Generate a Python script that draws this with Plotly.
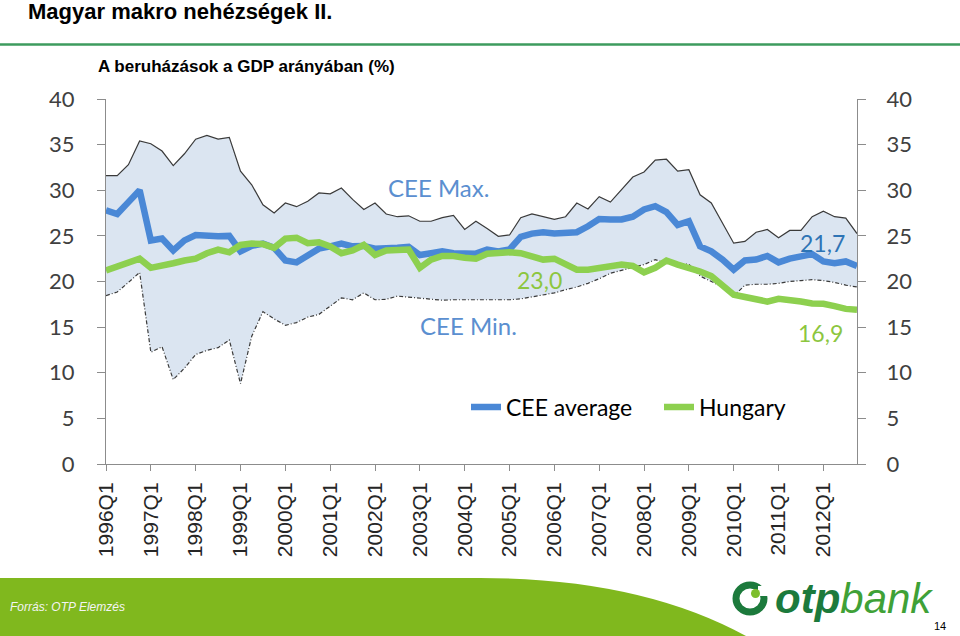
import plotly.graph_objects as go

# ---------------- data ----------------
years = list(range(1996, 2013))
quarters = [f"{y}Q{q}" for y in years for q in range(1, 5)]
tick_labels = [f"{y}Q1" for y in years]

cee_max = [31.6, 31.6, 32.8, 35.4, 35.1, 34.3, 32.7, 34.0, 35.6, 36.0,
           35.6, 35.8, 32.1, 30.6, 28.4, 27.5, 28.6, 28.2, 28.8, 29.7,
           29.6, 30.25, 29.0, 27.9, 28.6, 27.4, 27.1, 27.2, 26.6, 26.6,
           27.0, 27.25, 25.7, 26.6, 25.8, 24.95, 25.1, 27.0, 27.4, 27.1,
           26.8, 27.1, 28.6, 27.95, 29.3, 28.7, 30.1, 31.45, 32.0, 33.3,
           33.4, 32.1, 32.25, 29.5, 28.6, 26.4, 24.2, 24.4, 25.4, 25.7,
           24.8, 25.6, 25.6, 27.1, 27.7, 27.1, 26.95, 25.25]

cee_min = [18.45, 18.85, 19.9, 21.0, 12.25, 12.85, 9.25, 10.5, 12.0, 12.45,
           12.75, 13.6, 8.8, 14.0, 16.7, 15.9, 15.2, 15.5, 16.1, 16.4,
           17.3, 18.2, 18.0, 18.75, 18.0, 18.05, 18.4, 18.3, 18.2, 18.05,
           17.95, 18.0, 18.0, 17.95, 17.95, 18.0, 18.0, 18.1, 18.3, 18.55,
           18.75, 19.1, 19.4, 19.8, 20.3, 20.9, 21.2, 21.5, 21.85, 22.4,
           22.0, 21.9, 21.9, 20.6, 20.0, 19.4, 18.4, 19.6, 19.7, 19.7,
           19.8, 20.0, 20.1, 20.2, 20.1, 19.9, 19.6, 19.4]

cee_avg = [27.8, 27.4, 28.7, 30.0, 24.5, 24.7, 23.4, 24.5, 25.1, 25.0,
           24.95, 25.0, 23.3, 23.9, 24.15, 23.7, 22.3, 22.1, 22.8, 23.6,
           23.85, 24.15, 23.85, 23.9, 23.6, 23.6, 23.7, 23.8, 22.9, 23.1,
           23.3, 23.1, 23.0, 23.05, 23.5, 23.3, 23.5, 24.9, 25.25, 25.4,
           25.25, 25.25, 25.4, 26.05, 26.85, 26.8, 26.8, 27.1, 27.9, 28.25,
           27.6, 26.2, 26.6, 23.85, 23.3, 22.4, 21.3, 22.3, 22.4, 22.8,
           22.1, 22.5, 22.8, 23.0, 22.2, 22.0, 22.2, 21.7]

hungary = [21.2, 21.6, 22.0, 22.5, 21.5, 21.7, 22.0, 22.3, 22.5, 23.1,
           23.5, 23.2, 24.0, 24.15, 24.1, 23.7, 24.7, 24.8, 24.2, 24.3,
           23.85, 23.1, 23.4, 24.0, 22.9, 23.4, 23.5, 23.5, 21.5, 22.4,
           22.8, 22.8, 22.6, 22.5, 23.05, 23.2, 23.2, 23.1, 22.8, 22.4,
           22.5, 21.85, 21.3, 21.3, 21.5, 21.7, 21.85, 21.7, 21.0, 21.5,
           22.3, 21.85, 21.5, 21.1, 20.6, 19.65, 18.55, 18.3, 18.0, 17.8,
           18.1, 18.0, 17.8, 17.6, 17.55, 17.3, 17.0, 16.9]

# ---------------- layout helpers ----------------
W, H = 960, 636
L, R, T, B = 106, 103, 99, 172
PW, PH = W - L - R, H - T - B


def px(x):
    return (x - L) / PW


def py(y):
    return (H - B - y) / PH


BLUE = "#4A88D6"
GREEN = "#8DD04F"
FILL = "#DBE5F1"
AXIS = "#8C8C8C"
TICKFONT = dict(family="Lato, Open Sans, sans-serif", size=22, color="#404040")

fig = go.Figure()

fig.add_trace(go.Scatter(
    x=quarters, y=cee_min, mode="lines", showlegend=False, hoverinfo="skip",
    line=dict(color="#3A3A3A", width=1.2, dash="4px,2px,1px,2px"),
))
fig.add_trace(go.Scatter(
    x=quarters, y=cee_max, mode="lines", showlegend=False, hoverinfo="skip",
    fill="tonexty", fillcolor=FILL,
    line=dict(color="#3A3A3A", width=1.2),
))
fig.add_trace(go.Scatter(
    x=quarters, y=cee_avg, mode="lines", name="CEE average", legend="legend",
    line=dict(color=BLUE, width=6.5),
))
fig.add_trace(go.Scatter(
    x=quarters, y=hungary, mode="lines", name="Hungary", legend="legend2",
    line=dict(color=GREEN, width=6.5),
))

legend_font = dict(family="Lato, Open Sans, sans-serif", size=23, color="#000000")

fig.update_layout(
    width=W, height=H,
    margin=dict(l=L, r=R, t=T, b=B, pad=0),
    paper_bgcolor="white", plot_bgcolor="white",
    xaxis=dict(
        type="category", range=[0, len(quarters) - 1],
        tickmode="array", tickvals=tick_labels, ticktext=tick_labels,
        tickangle=-90, ticks="outside", ticklen=6, tickcolor=AXIS,
        showline=True, linecolor=AXIS, linewidth=1, showgrid=False,
        zeroline=False, ticklabelstandoff=3,
        tickfont=dict(family="Liberation Sans, Arial, sans-serif", size=21, color="#262626"),
    ),
    yaxis=dict(
        range=[0, 40], dtick=5, ticks="outside", ticklen=8, tickcolor=AXIS,
        showline=True, linecolor=AXIS, linewidth=1, showgrid=False,
        zeroline=False, tickfont=TICKFONT, ticklabelstandoff=18,
    ),
    yaxis2=dict(
        range=[0, 40], dtick=5, ticks="outside", ticklen=8, tickcolor=AXIS,
        showline=True, linecolor=AXIS, linewidth=1, showgrid=False,
        zeroline=False, tickfont=TICKFONT, overlaying="y", side="right",
        anchor="x", ticklabelstandoff=16,
    ),
    legend=dict(x=px(466), y=py(407), xanchor="left", yanchor="middle",
                orientation="h", font=legend_font, bgcolor="rgba(0,0,0,0)"),
    legend2=dict(x=px(659), y=py(407), xanchor="left", yanchor="middle",
                 orientation="h", font=legend_font, bgcolor="rgba(0,0,0,0)"),
    showlegend=True,
)

# keep the right axis drawn
fig.add_trace(go.Scatter(x=[quarters[0]], y=[None], yaxis="y2", showlegend=False,
                         hoverinfo="skip", mode="lines"))

ann_font = "Lato, Open Sans, sans-serif"
annotations = [
    dict(text="<b>Magyar makro nehézségek II.</b>", x=px(26), y=py(11), xanchor="left",
         yanchor="middle", font=dict(family="Liberation Sans, Arial", size=22, color="#000000")),
    dict(text="<b>A beruházások a GDP arányában (%)</b>", x=px(96), y=py(67), xanchor="left",
         yanchor="middle", font=dict(family="Liberation Sans, Arial", size=17, color="#000000")),
    dict(text="CEE Max.", x=px(438), y=py(187), font=dict(family=ann_font, size=24, color="#5B8FD0")),
    dict(text="CEE Min.", x=px(468), y=py(325), font=dict(family=ann_font, size=24, color="#5B8FD0")),
    dict(text="23,0", x=px(539), y=py(280), font=dict(family=ann_font, size=23, color="#8CC63F")),
    dict(text="21,7", x=px(822), y=py(243), font=dict(family=ann_font, size=23, color="#2E74B5")),
    dict(text="16,9", x=px(820), y=py(333), font=dict(family=ann_font, size=23, color="#8CC63F")),
    dict(text="<i>Forrás: OTP Elemzés</i>", x=px(8), y=py(607), xanchor="left", yanchor="middle",
         font=dict(family="Liberation Sans, Arial", size=12, color="#F4F4F4")),
    dict(text="<span style='color:#1C7A3C'><b><i>otp</i></b></span><span style='color:#3FA137'><i>bank</i></span>",
         x=px(773), y=py(598), xanchor="left", yanchor="middle",
         font=dict(family="Liberation Sans, Arial", size=42)),
    dict(text="14", x=px(940), y=py(626), xanchor="center", yanchor="middle",
         font=dict(family="Liberation Sans, Arial", size=11, color="#000000")),
]
for a in annotations:
    a.setdefault("xref", "paper")
    a.setdefault("yref", "paper")
    a.setdefault("showarrow", False)
    a.setdefault("xanchor", "center")
    a.setdefault("yanchor", "middle")
    fig.add_annotation(**a)

shapes = [
    # header rule
    dict(type="line", x0=px(0), x1=px(960), y0=py(44.5), y1=py(44.5),
         line=dict(color="#3D9B5E", width=2.5)),
    # green footer band
    dict(type="path",
         path=f"M {px(0)} {py(578)} L {px(480)} {py(578)} Q {px(640)} {py(578)} {px(746)} {py(636)} L {px(0)} {py(636)} Z",
         fillcolor="#80B81E", line=dict(width=0)),
    # logo ring
    dict(type="circle", x0=px(736), x1=px(764), y0=py(585), y1=py(612),
         line=dict(color="#1C7A3C", width=7), fillcolor="rgba(0,0,0,0)"),
    dict(type="rect", x0=px(758), x1=px(770), y0=py(586), y1=py(596),
         fillcolor="white", line=dict(width=0)),
    dict(type="circle", x0=px(751), x1=px(760), y0=py(589), y1=py(598),
         fillcolor="#7DBE2C", line=dict(width=0)),
]
for s in shapes:
    s.setdefault("xref", "paper")
    s.setdefault("yref", "paper")
    s.setdefault("layer", "above")
    fig.add_shape(**s)

fig.write_html(
    "out.html",
    config={"displayModeBar": False},
    post_script="document.body.style.margin='0';document.body.style.overflow='hidden';",
)
